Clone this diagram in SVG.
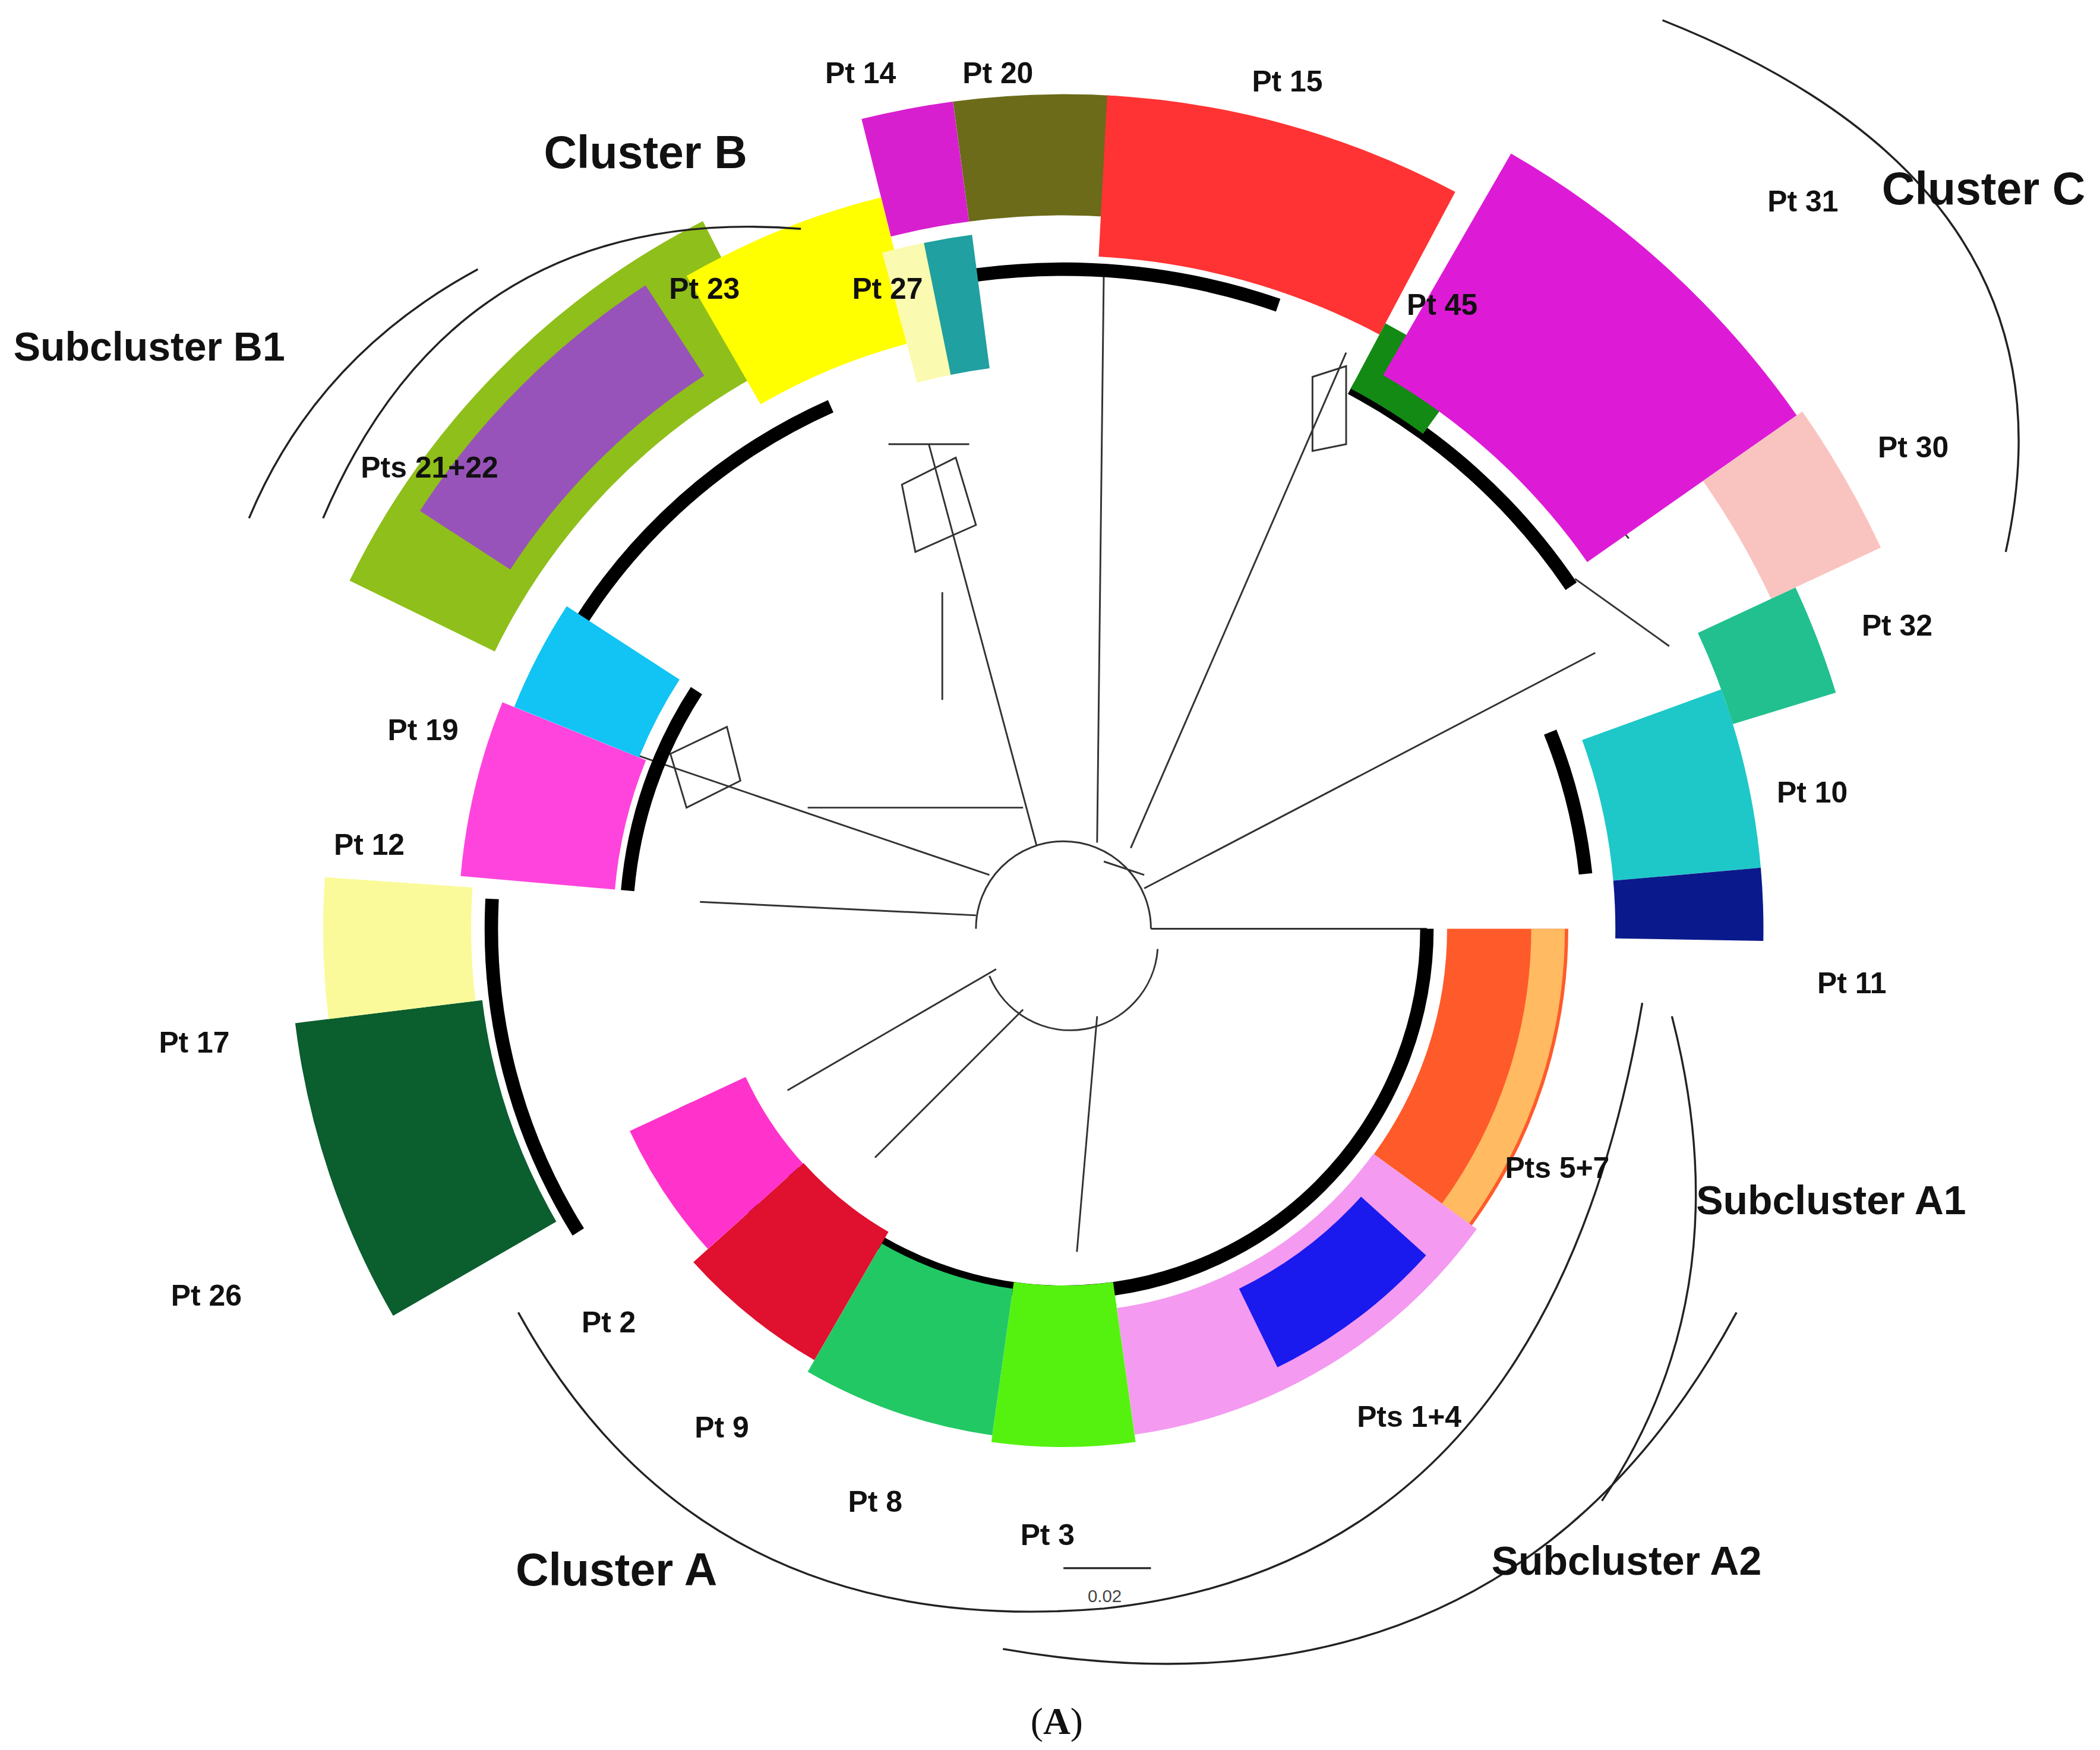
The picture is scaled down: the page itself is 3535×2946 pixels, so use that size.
<svg xmlns="http://www.w3.org/2000/svg" width="3535" height="2946" viewBox="0 0 3535 2946">
<style>
.l{font-family:"Liberation Sans",Arial,sans-serif;font-weight:bold;font-size:22px;fill:#111}
.c{font-family:"Liberation Sans",Arial,sans-serif;font-weight:bold;font-size:34px;fill:#111}
.s{font-family:"Liberation Sans",Arial,sans-serif;font-weight:bold;font-size:30px;fill:#111}
.b{fill:none}
.t{fill:none;stroke:#333;stroke-width:1.3}
.k{fill:none;stroke:#000;stroke-width:10}
</style>
<rect width="3535" height="2946" fill="#fff"/>
<g transform="scale(2.266)">
<g id="tree">
<path class="t" d="M790,690 m-65,0 a65,65 0 0 1 130,0 M790,690 m-55,35 a65,65 0 0 0 125,-20 M770,628 L690,330 M815,626 L820,200 M840,630 L1000,262 M850,660 L1185,485 M855,690 L1060,690 M735,650 L470,560 M725,680 L520,670 M740,720 L585,810 M760,750 L650,860 M815,755 L800,930 M820,640 L850,650"/>
<path class="t" d="M700,440 L700,520 M660,330 L720,330 M1170,430 L1240,480 M1150,330 L1210,400 M600,600 L760,600"/>
<path class="t" d="M498,560 L540,540 L550,580 L510,600 Z M670,360 L710,340 L725,390 L680,410 Z M975,280 L1000,272 L1000,330 L975,335 Z"/>
<circle class="k" cx="790" cy="690" r="425" pathLength="360" stroke-dasharray="40 400" transform="rotate(206 790 690)"/>
<circle class="k" cx="790" cy="690" r="490" pathLength="360" stroke-dasharray="33 400" transform="rotate(-104 790 690)"/>
<circle class="k" cx="790" cy="690" r="455" pathLength="360" stroke-dasharray="28 400" transform="rotate(-62 790 690)"/>
<circle class="k" cx="790" cy="690" r="390" pathLength="360" stroke-dasharray="16 400" transform="rotate(-22 790 690)"/>
<circle class="k" cx="790" cy="690" r="270" pathLength="360" stroke-dasharray="150 400" transform="rotate(0 790 690)"/>
<circle class="k" cx="790" cy="690" r="310" pathLength="360" stroke-dasharray="30 400" transform="rotate(125 790 690)"/>
<circle class="k" cx="790" cy="690" r="425" pathLength="360" stroke-dasharray="35 400" transform="rotate(148 790 690)"/>
<circle class="k" cx="790" cy="690" r="325" pathLength="360" stroke-dasharray="28 400" transform="rotate(185 790 690)"/>
</g>
<g id="bands">
<circle class="b" cx="790" cy="690" r="575" stroke="#d81fd0" stroke-width="90" pathLength="360" stroke-dasharray="6.4 400" transform="rotate(-104 790 690)"/>
<circle class="b" cx="790" cy="690" r="575" stroke="#6b6b1a" stroke-width="90" pathLength="360" stroke-dasharray="11.6 400" transform="rotate(-97.6 790 690)"/>
<circle class="b" cx="790" cy="690" r="560" stroke="#ff3333" stroke-width="120" pathLength="360" stroke-dasharray="25 400" transform="rotate(-87 790 690)"/>
<circle class="b" cx="790" cy="690" r="482" stroke="#138a13" stroke-width="55" pathLength="360" stroke-dasharray="8 400" transform="rotate(-62 790 690)"/>
<circle class="b" cx="790" cy="690" r="570" stroke="#dd1bd6" stroke-width="190" pathLength="360" stroke-dasharray="25 400" transform="rotate(-60 790 690)"/>
<circle class="b" cx="790" cy="690" r="625" stroke="#f9c4c0" stroke-width="90" pathLength="360" stroke-dasharray="10 400" transform="rotate(-35 790 690)"/>
<circle class="b" cx="790" cy="690" r="560" stroke="#22c08f" stroke-width="80" pathLength="360" stroke-dasharray="8 400" transform="rotate(-25 790 690)"/>
<circle class="b" cx="790" cy="690" r="465" stroke="#1ec8c8" stroke-width="110" pathLength="360" stroke-dasharray="15 400" transform="rotate(-20 790 690)"/>
<circle class="b" cx="790" cy="690" r="465" stroke="#0a1a8c" stroke-width="110" pathLength="360" stroke-dasharray="6 400" transform="rotate(-5 790 690)"/>
<circle class="b" cx="790" cy="690" r="330" stroke="#ff5a2a" stroke-width="90" pathLength="360" stroke-dasharray="36 400" transform="rotate(0 790 690)"/>
<circle class="b" cx="790" cy="690" r="360" stroke="#ffe27a" stroke-width="25" pathLength="360" stroke-dasharray="36 400" stroke-opacity="0.7" transform="rotate(0 790 690)"/>
<circle class="b" cx="790" cy="690" r="332" stroke="#f49af0" stroke-width="95" pathLength="360" stroke-dasharray="46 400" transform="rotate(36 790 690)"/>
<circle class="b" cx="790" cy="690" r="330" stroke="#1a1aee" stroke-width="65" pathLength="360" stroke-dasharray="22 400" transform="rotate(42 790 690)"/>
<circle class="b" cx="790" cy="690" r="325" stroke="#55f20f" stroke-width="120" pathLength="360" stroke-dasharray="16 400" transform="rotate(82 790 690)"/>
<circle class="b" cx="790" cy="690" r="325" stroke="#22c864" stroke-width="110" pathLength="360" stroke-dasharray="22 400" transform="rotate(98 790 690)"/>
<circle class="b" cx="790" cy="690" r="315" stroke="#e0102f" stroke-width="110" pathLength="360" stroke-dasharray="18 400" transform="rotate(120 790 690)"/>
<circle class="b" cx="790" cy="690" r="308" stroke="#ff33cc" stroke-width="95" pathLength="360" stroke-dasharray="17 400" transform="rotate(138 790 690)"/>
<circle class="b" cx="790" cy="690" r="505" stroke="#0b5e2e" stroke-width="140" pathLength="360" stroke-dasharray="23 400" transform="rotate(150 790 690)"/>
<circle class="b" cx="790" cy="690" r="495" stroke="#fafa9a" stroke-width="110" pathLength="360" stroke-dasharray="11 400" transform="rotate(173 790 690)"/>
<circle class="b" cx="790" cy="690" r="392" stroke="#ff44dd" stroke-width="115" pathLength="360" stroke-dasharray="17 400" transform="rotate(185 790 690)"/>
<circle class="b" cx="790" cy="690" r="390" stroke="#11c4f4" stroke-width="100" pathLength="360" stroke-dasharray="11 400" transform="rotate(202 790 690)"/>
<circle class="b" cx="790" cy="690" r="530" stroke="#8fbf1a" stroke-width="120" pathLength="360" stroke-dasharray="37 400" transform="rotate(206 790 690)"/>
<circle class="b" cx="790" cy="690" r="530" stroke="#9b2ff0" stroke-width="80" stroke-opacity="0.75" pathLength="360" stroke-dasharray="24 400" transform="rotate(213 790 690)"/>
<circle class="b" cx="790" cy="690" r="505" stroke="#ffff00" stroke-width="110" pathLength="360" stroke-dasharray="16 400" transform="rotate(240 790 690)"/>
<circle class="b" cx="790" cy="690" r="470" stroke="#fafab0" stroke-width="100" pathLength="360" stroke-dasharray="4 400" transform="rotate(255 790 690)"/>
<circle class="b" cx="790" cy="690" r="470" stroke="#20a0a0" stroke-width="100" pathLength="360" stroke-dasharray="4 400" transform="rotate(258.5 790 690)"/>
</g>
<g id="clusters" fill="none" stroke="#222" stroke-width="1.5">
<path d="M1235,15 Q1550,140 1490,410"/>
<path d="M355,200 Q235,265 185,385"/>
<path d="M595,170 Q340,150 240,385"/>
<path d="M385,975 Q520,1220 820,1195 Q1150,1160 1220,745"/>
<path d="M1242,755 Q1295,960 1190,1115"/>
<path d="M745,1225 Q1120,1290 1290,975"/>
<path d="M790,1165 L855,1165"/>
</g>
<g id="labels">
<text class="l" x="613" y="62">Pt 14</text>
<text class="l" x="715" y="62">Pt 20</text>
<text class="l" x="930" y="68">Pt 15</text>
<text class="c" x="404" y="125">Cluster B</text>
<text class="l" x="497" y="222">Pt 23</text>
<text class="l" x="633" y="222">Pt 27</text>
<text class="l" x="1045" y="234">Pt 45</text>
<text class="c" x="1398" y="152">Cluster C</text>
<text class="l" x="1313" y="157">Pt 31</text>
<text class="s" x="10" y="268">Subcluster B1</text>
<text class="l" x="268" y="355">Pts 21+22</text>
<text class="l" x="1395" y="340">Pt 30</text>
<text class="l" x="1383" y="472">Pt 32</text>
<text class="l" x="288" y="550">Pt 19</text>
<text class="l" x="1320" y="596">Pt 10</text>
<text class="l" x="248" y="635">Pt 12</text>
<text class="l" x="1350" y="738">Pt 11</text>
<text class="l" x="118" y="782">Pt 17</text>
<text class="l" x="1118" y="875">Pts 5+7</text>
<text class="s" x="1260" y="902">Subcluster A1</text>
<text class="l" x="127" y="970">Pt 26</text>
<text class="l" x="432" y="990">Pt 2</text>
<text class="l" x="516" y="1068">Pt 9</text>
<text class="l" x="1008" y="1060">Pts 1+4</text>
<text class="l" x="630" y="1123">Pt 8</text>
<text class="l" x="758" y="1148">Pt 3</text>
<text class="c" x="383" y="1178">Cluster A</text>
<text class="s" x="1108" y="1170">Subcluster A2</text>
<text x="808" y="1190" font-family="Liberation Sans,Arial,sans-serif" font-size="13" fill="#444">0.02</text>
<text x="785" y="1288" text-anchor="middle" font-family="Liberation Serif,Times New Roman,serif" font-size="28" fill="#111">(<tspan font-weight="bold">A</tspan>)</text>
</g>
</g>
</svg>
